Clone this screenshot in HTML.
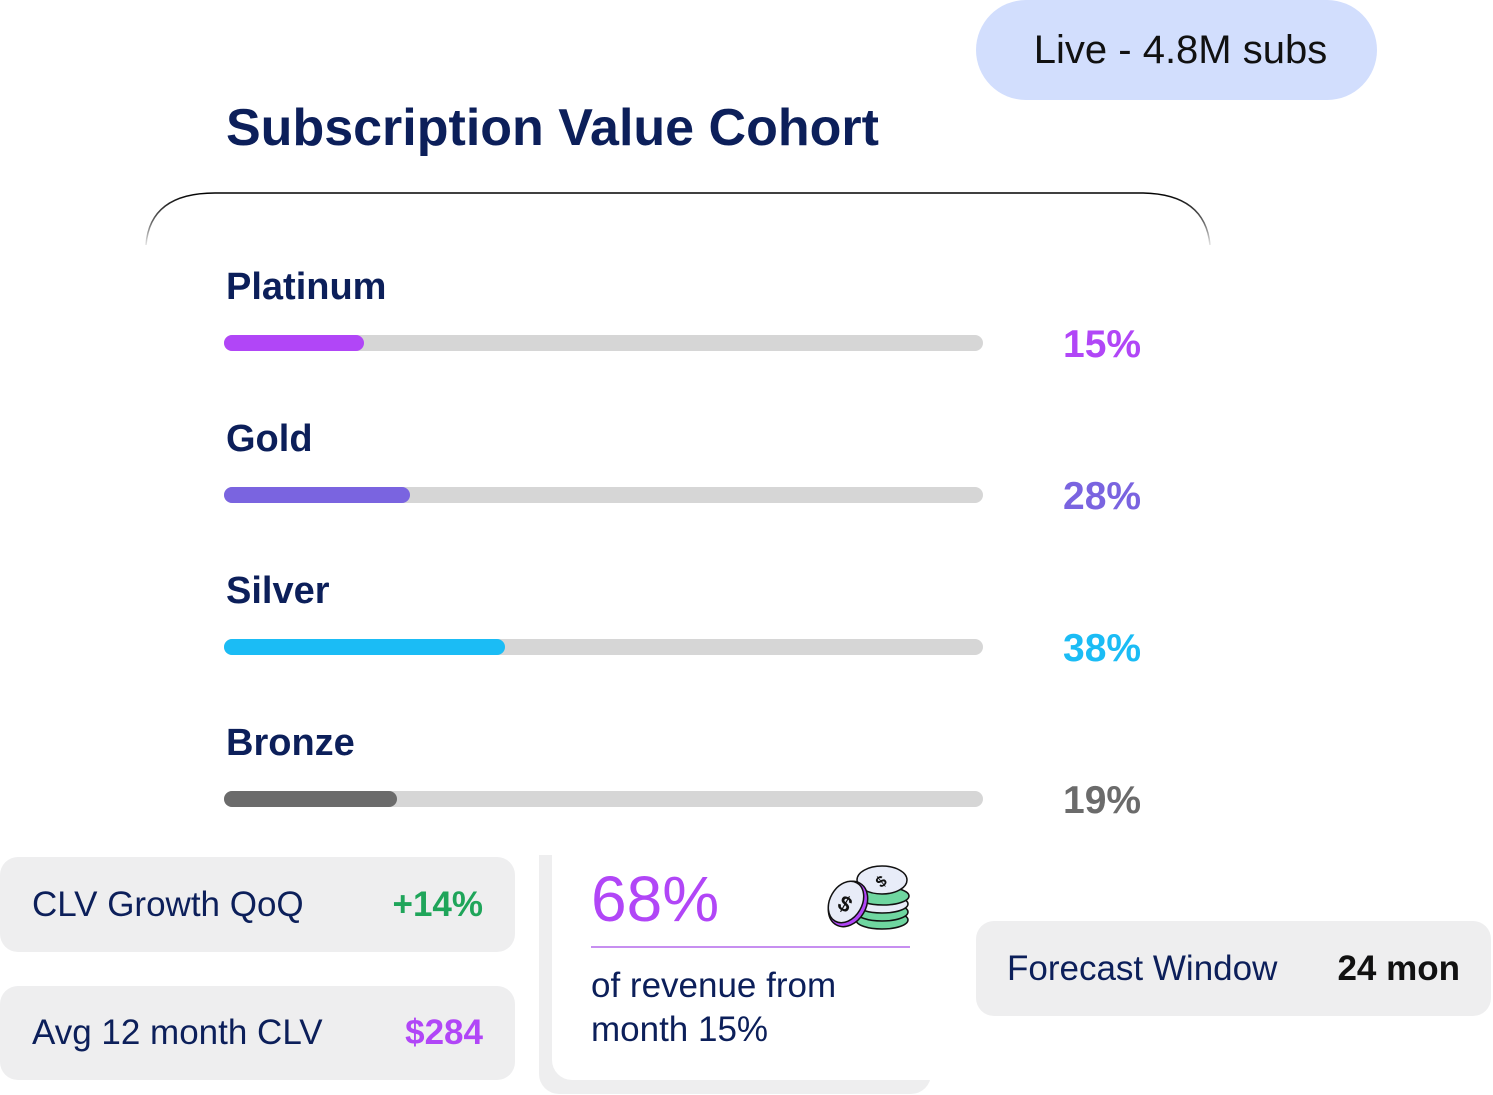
<!DOCTYPE html>
<html><head><meta charset="utf-8"><style>
body{margin:0;width:1493px;height:1095px;background:#fff;position:relative;overflow:hidden;font-family:"Liberation Sans",sans-serif;color:#0c1f5a}
.a{position:absolute}
.pill{left:976px;top:0;width:401px;height:100px;border-radius:50px;background:#d2defd;color:#111;font-size:40px;line-height:100px;text-align:center;padding-left:8px;box-sizing:border-box}
.title{left:226px;top:98px;font-size:52px;font-weight:bold;color:#0c1f5a;white-space:nowrap}
.lab{left:226px;font-size:38px;font-weight:bold;white-space:nowrap}
.track{left:224px;width:759px;height:16px;border-radius:8px;background:#d6d6d6}
.fill{position:absolute;left:0;top:0;height:16px;border-radius:8px}
.pct{left:1063px;font-size:39px;font-weight:bold}
.card{background:#eeeeef;border-radius:18px;font-size:35px}
.card span{position:absolute;top:0;line-height:inherit}
</style></head><body>
<div class="a pill">Live - 4.8M subs</div>
<div class="a title">Subscription Value Cohort</div>
<svg class="a" style="left:0;top:0" width="1493" height="300">
<defs><linearGradient id="fd" x1="0" y1="193" x2="0" y2="250" gradientUnits="userSpaceOnUse"><stop offset="0" stop-color="#000" stop-opacity="1"/><stop offset="0.5" stop-color="#000" stop-opacity="0.6"/><stop offset="1" stop-color="#000" stop-opacity="0"/></linearGradient></defs>
<path d="M146 245 Q150 193 215 193 L1140 193 Q1205 193 1210 245" fill="none" stroke="url(#fd)" stroke-width="1.5"/>
</svg>
<div class="a lab" style="top:266px">Platinum</div>
<div class="a track" style="top:335px"><div class="fill" style="width:140px;background:#b146f7"></div></div>
<div class="a pct" style="top:323px;color:#b146f7">15%</div>
<div class="a lab" style="top:418px">Gold</div>
<div class="a track" style="top:487px"><div class="fill" style="width:186px;background:#7a64e0"></div></div>
<div class="a pct" style="top:475px;color:#7a64e0">28%</div>
<div class="a lab" style="top:570px">Silver</div>
<div class="a track" style="top:639px"><div class="fill" style="width:281px;background:#1bbcf5"></div></div>
<div class="a pct" style="top:627px;color:#1bbcf5">38%</div>
<div class="a lab" style="top:722px">Bronze</div>
<div class="a track" style="top:791px"><div class="fill" style="width:173px;background:#6b6b6b"></div></div>
<div class="a pct" style="top:779px;color:#6b6b6b">19%</div>

<div class="a card" style="left:0;top:857px;width:515px;height:95px;line-height:95px"><span style="left:32px">CLV Growth QoQ</span><span style="right:32px;color:#1fa55a;font-weight:bold">+14%</span></div>
<div class="a card" style="left:0;top:986px;width:515px;height:94px;line-height:94px"><span style="left:32px">Avg 12 month CLV</span><span style="right:32px;color:#b146f7;font-weight:bold">$284</span></div>
<div class="a card" style="left:976px;top:921px;width:515px;height:95px;line-height:95px"><span style="left:31px">Forecast Window</span><span style="right:31px;color:#111;font-weight:bold">24 mon</span></div>

<div class="a" style="left:539px;top:855px;width:392px;height:239px;background:#eeeeef;border-radius:0 0 20px 20px"></div>
<div class="a" style="left:552px;top:855px;width:379px;height:225px;background:#fff;border-radius:0 0 0 20px"></div>
<div class="a" style="left:591px;top:862px;font-size:64px;color:#b146f7">68%</div>
<div class="a" style="left:591px;top:946px;width:319px;height:1.5px;background:#c78ff0"></div>
<div class="a" style="left:591px;top:964px;font-size:35px;line-height:44px;color:#0c1f5a">of revenue from<br>month 15%</div>
<svg class="a" style="left:826px;top:862px" width="86" height="72" viewBox="0 0 86 72">
<g stroke="#111" stroke-width="1.5">
<ellipse cx="56" cy="58" rx="26" ry="9" fill="#6fd6a0"/><ellipse cx="56" cy="50" rx="26" ry="9" fill="#6fd6a0"/><ellipse cx="56" cy="42" rx="26" ry="9" fill="#e8ecf8"/><ellipse cx="57" cy="34" rx="26" ry="9" fill="#6fd6a0"/><ellipse cx="56" cy="18" rx="25" ry="14" fill="#e8ecf8"/>
<ellipse cx="22" cy="42" rx="18" ry="24" transform="rotate(30 22 42)" fill="#b146f7"/><ellipse cx="20" cy="40" rx="16" ry="22" transform="rotate(30 20 40)" fill="#e8ecf8"/>
</g>
<text x="13" y="50" font-size="22" font-weight="bold" fill="#111" font-family="Liberation Sans" transform="rotate(30 20 42)">$</text>
<text x="50" y="24" font-size="16" font-weight="bold" fill="#111" font-family="Liberation Sans" transform="rotate(-40 56 18)">$</text>
</svg>
</body></html>
